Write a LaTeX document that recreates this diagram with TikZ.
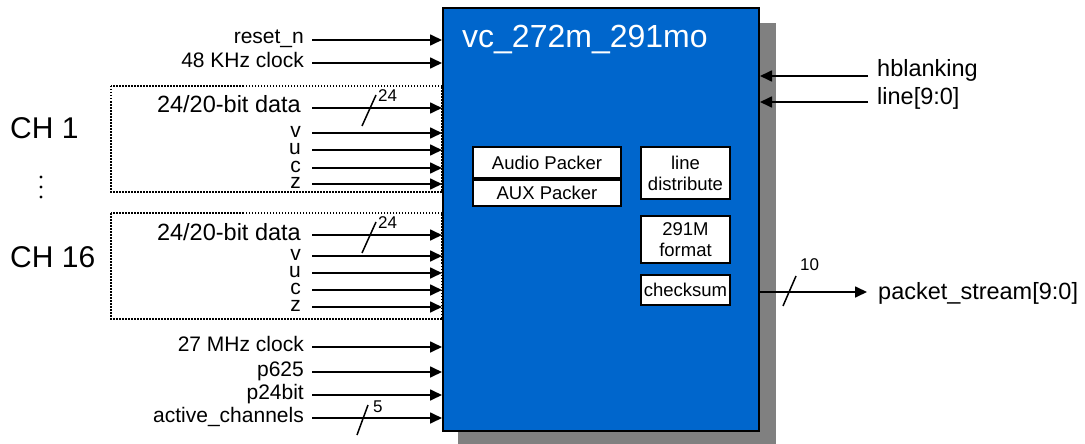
\documentclass[tikz,border=0pt]{standalone}
\usepackage{fontspec}
\setmainfont{Liberation Sans}
\usetikzlibrary{arrows.meta}
\definecolor{cblock}{HTML}{0066CC}
\definecolor{cshadow}{HTML}{808080}

\tikzset{
  sig/.style={line width=1.7pt,-{Triangle[length=12pt,width=11pt]}},
  lbl/.style={anchor=base east,inner sep=0pt,font=\fontsize{21}{24}\selectfont},
  bitlbl/.style={lbl,text height=1.05ex,text depth=0pt},
  biglbl/.style={lbl,font=\fontsize{23.5}{27}\selectfont},
  outlbl/.style={anchor=base west,inner sep=0pt,font=\fontsize{23.5}{27}\selectfont},
  sub/.style={draw,line width=2pt,fill=white,align=center,inner sep=0pt,anchor=north west,
    font=\fontsize{18.5}{21}\selectfont},
  grp/.style={line width=1.5pt,dash pattern=on 1.5pt off 1.5pt},
  bus/.style={line width=1.5pt},
  buslbl/.style={anchor=west,inner sep=0pt,font=\fontsize{17}{20}\selectfont}
}

\begin{document}
\begin{tikzpicture}[x=1pt,y=-1pt]
  \useasboundingbox (0,0) rectangle (1085,444);
  % channel groups
  \draw[grp] (111,86) rectangle (442,192);
  \draw[grp] (111,213) rectangle (442,319);
  \node[anchor=base west,inner sep=0pt,font=\fontsize{30}{36}\selectfont] (ch1) at (10,138) {CH 1};
  \node[anchor=base west,inner sep=0pt,font=\fontsize{30}{36}\selectfont] (ch16) at (10,267) {CH 16};
  \foreach \dy in {177,187,197}
    \fill (41,\dy) circle (1.7pt);
  % block
  \fill[cshadow] (458,23) rectangle (776,444);
  \node[draw,line width=2pt,fill=cblock,minimum width=316pt,minimum height=423pt,
    inner sep=0pt,anchor=north west] (vc) at (442,7) {};
  \node[anchor=base west,inner sep=0pt,text=white,font=\fontsize{32}{38}\selectfont] (title)
    at (462,48) {vc\_272m\_291mo};
  \node[sub,minimum width=148pt,minimum height=31pt] (apk) at (472,146) {Audio Packer};
  \node[sub,minimum width=148pt,minimum height=26pt] (aux) at (apk.south west) {AUX Packer};
  \node[sub,minimum width=89pt,minimum height=52pt] (ldist) at (640,146) {line\\distribute};
  \node[sub,minimum width=89pt,minimum height=47pt] (fmt) at (640,215) {291M\\format};
  \node[sub,minimum width=89pt,minimum height=30pt] (csum) at (640,274) {checksum};
  % inputs
  \foreach \nm/\y/\txt in {rst/40/reset\_n, ckA/63/48 KHz clock, ckB/347/27 MHz clock,
      pfmt/372/p625, pbit/395/p24bit, act/418/active\_channels}{
    \coordinate (\nm) at (312,\y);
    \node[lbl] (\nm-l) at (304,\y+4) {\txt};
    \draw[sig] (\nm) -- (\nm -| vc.west);
  }
  \foreach \ch/\yd/\yv/\yu/\yc/\yz in {a/108/133/150/168/184, b/235/256/273/290/307}{
    \coordinate (\ch-d) at (312,\yd);
    \node[biglbl] (\ch-dl) at (301,\yd+5) {24/20-bit data};
    \draw[sig] (\ch-d) -- (\ch-d -| vc.west);
    \foreach \sg/\y in {v/\yv, u/\yu, c/\yc, z/\yz}{
      \coordinate (\ch-\sg) at (312,\y);
      \node[bitlbl] (\ch-\sg-l) at (301,\y+4) {\sg};
      \draw[sig] (\ch-\sg) -- (\ch-\sg -| vc.west);
    }
  }
  \coordinate (hb) at (868,76);
  \node[outlbl] (hb-l) at (877,77) {hblanking};
  \draw[sig] (hb) -- (hb -| vc.east);
  \coordinate (ln) at (868,102);
  \node[outlbl] (ln-l) at (877,104) {line[9:0]};
  \draw[sig] (ln) -- (ln -| vc.east);
  % output
  \coordinate (ps) at (867,292);
  \node[outlbl] (ps-l) at (878,299) {packet\_stream[9:0]};
  \draw[sig] (ps -| vc.east) -- (ps);
  % bus widths
  \draw[bus] (362,126) -- (376,95);
  \node[buslbl] (wa) at (378,96) {24};
  \draw[bus] (362,253) -- (376,222);
  \node[buslbl] (wb) at (378,223) {24};
  \draw[bus] (357,435) -- (368,405);
  \node[buslbl] (wact) at (373,407) {5};
  \draw[bus] (783,306) -- (796,276);
  \node[buslbl] (wps) at (800,265) {10};
\end{tikzpicture}
\end{document}
